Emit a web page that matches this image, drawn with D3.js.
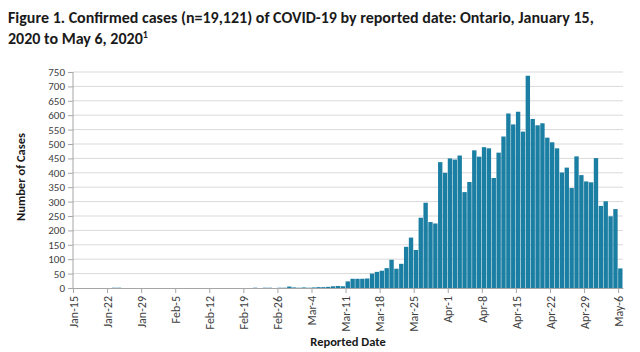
<!DOCTYPE html>
<html>
<head>
<meta charset="utf-8">
<script src="https://cdn.jsdelivr.net/npm/d3@7"></script>
<style>
  body { margin: 0; background: #fff; }
  svg { display: block; font-family: Carlito, Lato, "Open Sans", sans-serif; }
  .axis path, .axis line { stroke: #a6a6a6; }
  .axis text { fill: #404040; font-size: 11px; font-family: Carlito, Lato, sans-serif; }
  .axis.x text { font-size: 12px; }
</style>
</head>
<body>
<div id="chart"></div>
<script>
// daily counts, Jan 15 .. May 6 2020 (one value per reported date)
const startDate = "2020-01-15";
const cases = [
  0, 0, 0, 0, 0, 0, 0, 0, 1, 1,            // Jan 15 - Jan 24
  0, 0, 0, 0, 0, 0, 0, 0, 0, 0,            // Jan 25 - Feb 3
  0, 0, 0, 0, 0, 0, 0, 0, 0, 0,            // Feb 4 - Feb 13
  0, 0, 0, 0, 0, 0, 0, 1, 0, 1,            // Feb 14 - Feb 23
  1, 0, 1, 1, 5, 2, 1, 2, 1, 2,            // Feb 24 - Mar 4
  3, 3, 4, 6, 7, 6, 23, 32, 32, 32,        // Mar 5 - Mar 14
  33, 50, 56, 60, 69, 98, 67, 84, 143, 175, // Mar 15 - Mar 24
  132, 244, 296, 229, 224, 437, 400, 450, 446, 460, // Mar 25 - Apr 3
  333, 368, 478, 456, 489, 485, 382, 470, 526, 606, // Apr 4 - Apr 13
  568, 612, 543, 737, 587, 565, 572, 522, 506, 485, // Apr 14 - Apr 23
  401, 418, 347, 457, 392, 370, 367, 451, 285, 301, // Apr 24 - May 3
  249, 274, 68                              // May 4 - May 6
];
const yTicks = d3.range(0, 751, 50);
const xTickLabels = ["Jan-15","Jan-22","Jan-29","Feb-5","Feb-12","Feb-19","Feb-26",
  "Mar-4","Mar-11","Mar-18","Mar-25","Apr-1","Apr-8","Apr-15","Apr-22","Apr-29","May-6"];

const parseDay = d3.utcParse("%Y-%m-%d");
const dayFormat = d3.utcFormat("%b-%-d");
const start = parseDay(startDate);
const data = cases.map((v, i) => ({date: d3.utcDay.offset(start, i), value: v}));

const width = 640, height = 352;
const margin = {top: 72, right: 17, bottom: 64, left: 73};
const innerW = width - margin.left - margin.right;
const innerH = height - margin.top - margin.bottom;

const svg = d3.select("#chart").append("svg")
    .attr("width", width)
    .attr("height", height);

// title
const title = svg.append("text")
    .attr("font-weight", "bold")
    .attr("font-size", 16)
    .attr("fill", "#1a1a1a");
title.append("tspan").attr("x", 8).attr("y", 23)
    .text("Figure 1. Confirmed cases (n=19,121) of COVID-19 by reported date: Ontario, January 15,");
title.append("tspan").attr("x", 8).attr("y", 44)
    .text("2020 to May 6, 2020");
title.append("tspan").attr("dy", -6).attr("font-size", 10).text("1");

const g = svg.append("g")
    .attr("transform", `translate(${margin.left},${margin.top})`);

// scales
const x = d3.scaleUtc()
    .domain([start, d3.utcDay.offset(start, cases.length)])
    .range([0, innerW]);
const y = d3.scaleLinear().domain([0, 750]).range([innerH, 0]);

// gridlines
g.append("g")
    .selectAll("line")
    .data(yTicks.filter(d => d > 0))
    .join("line")
    .attr("x1", 0)
    .attr("x2", innerW)
    .attr("y1", d => y(d))
    .attr("y2", d => y(d))
    .attr("stroke", "#d9d9d9")
    .attr("stroke-width", 1);

// bars
g.append("g")
    .selectAll("rect")
    .data(data.filter(d => d.value > 0))
    .join("rect")
    .attr("x", d => x(d.date))
    .attr("width", d => x(d3.utcDay.offset(d.date, 1)) - x(d.date) - 0.5)
    .attr("y", d => y(d.value))
    .attr("height", d => innerH - y(d.value))
    .attr("fill", "#1b7ea3");

// y axis
const yAxis = g.append("g")
    .attr("class", "axis y")
    .call(d3.axisLeft(y).tickValues(yTicks).tickSize(5).tickPadding(3));
yAxis.select(".domain").attr("d", `M0,${innerH}V0`);

// x axis
const tickDates = xTickLabels.map(s => data.find(d => dayFormat(d.date) === s).date);
const xAxis = g.append("g")
    .attr("class", "axis x")
    .attr("transform", `translate(0,${innerH})`)
    .call(d3.axisBottom(x).tickValues(tickDates).tickFormat(dayFormat).tickSize(5).tickSizeOuter(0));
xAxis.selectAll("text")
    .attr("transform", "rotate(-90)")
    .attr("text-anchor", "end")
    .attr("x", -8)
    .attr("y", 0)
    .attr("dy", "0.35em");

// axis titles
svg.append("text")
    .attr("transform", `translate(25,${margin.top + innerH / 2 - 3}) rotate(-90)`)
    .attr("text-anchor", "middle")
    .attr("font-weight", "bold")
    .attr("font-size", 12.5)
    .attr("fill", "#1a1a1a")
    .text("Number of Cases");

svg.append("text")
    .attr("x", 348)
    .attr("y", 346)
    .attr("text-anchor", "middle")
    .attr("font-weight", "bold")
    .attr("font-size", 12.5)
    .attr("fill", "#1a1a1a")
    .text("Reported Date");
</script>
</body>
</html>
